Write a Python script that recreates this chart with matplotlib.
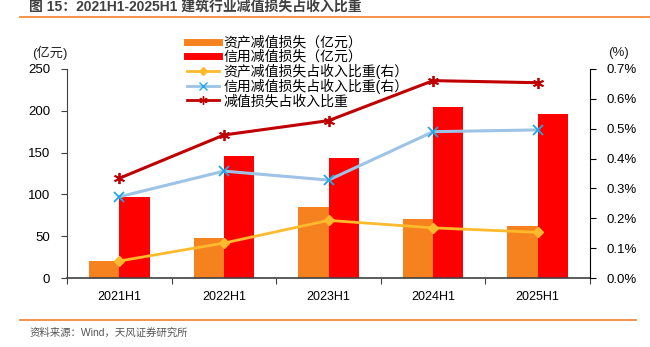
import numpy as np
import matplotlib
matplotlib.use("Agg")
from matplotlib import pyplot as plt
from matplotlib.lines import Line2D

plt.rcParams['font.family'] = ['Liberation Sans', 'Noto Sans CJK SC']
plt.rcParams['axes.unicode_minus'] = False

periods = ["2021H1", "2022H1", "2023H1", "2024H1", "2025H1"]
asset_loss = [20, 48, 85, 71, 62]          # 亿元
credit_loss = [97, 146, 143, 205, 196]     # 亿元
asset_ratio = [0.057, 0.117, 0.193, 0.168, 0.153]   # %
credit_ratio = [0.272, 0.358, 0.328, 0.490, 0.496]  # %
total_ratio = [0.334, 0.479, 0.527, 0.661, 0.654]   # %

c_orange = "#F5821F"
c_red = "#FF0000"
c_yellow = "#FDBA2C"
c_blue = "#9DC3E6"
c_bluemk = "#1FA8E8"
c_dred = "#C00000"
c_line = "#F7883A"

fig = plt.figure(figsize=(6.5, 3.47), dpi=100)
ax = fig.add_axes([0.1031, 0.1988, 0.8046, 0.6024])
ax2 = ax.twinx()

x = np.arange(len(periods))
w = 0.29
ax.bar(x - w / 2, asset_loss, w, color=c_orange, zorder=2)
ax.bar(x + w / 2, credit_loss, w, color=c_red, zorder=2)

ax.set_xlim(-0.5, len(periods) - 0.5)
ax.set_ylim(0, 250)
ax.set_yticks(range(0, 251, 50))
ax.set_xticks(np.arange(-0.5, len(periods), 1.0))
ax.set_xticklabels([])
ax.set_xticks(x, minor=True)
ax.set_xticklabels(periods, minor=True)
ax.tick_params(axis="x", which="minor", length=0, pad=9, labelsize=9)
ax.tick_params(axis="x", which="major", length=4, color="#404040")
ax.tick_params(axis="y", length=4, labelsize=9.5, pad=8, color="#404040")
ax.spines["top"].set_visible(False)
ax.spines["right"].set_visible(False)
ax.spines["left"].set_color("#404040")
ax.spines["bottom"].set_color("#404040")
ax.spines["bottom"].set_linewidth(1.2)

ax2.plot(x, asset_ratio, color=c_yellow, lw=2, marker="D", ms=5,
         markerfacecolor=c_yellow, markeredgecolor=c_yellow, zorder=3)
ax2.plot(x, credit_ratio, color=c_blue, lw=2.2, marker="x", ms=7,
         markeredgecolor=c_bluemk, markeredgewidth=1.3, zorder=3)
ax2.plot(x, total_ratio, color=c_dred, lw=2.2, marker=(6, 2, 0), ms=8,
         markeredgecolor=c_dred, markeredgewidth=1.3, zorder=3)
ax2.set_ylim(0, 0.7)
ax2.set_yticks(np.arange(0, 0.71, 0.1))
ax2.set_yticklabels([f"{v:.1f}%" for v in np.arange(0, 0.71, 0.1)])
ax2.tick_params(axis="y", length=4, labelsize=9.5, pad=8)
for s in ["top", "left", "bottom"]:
    ax2.spines[s].set_visible(False)

fig.text(0.049, 0.848, "(亿元)", fontsize=9.5, ha="left", va="center", color="#222222")
fig.text(0.951, 0.848, "(%)", fontsize=9.5, ha="center", va="center", color="#222222")

handles = [
    Line2D([], [], color=c_orange, lw=5),
    Line2D([], [], color=c_red, lw=5),
    Line2D([], [], color=c_yellow, lw=2, marker="D", ms=4),
    Line2D([], [], color=c_blue, lw=2, marker="x", ms=6, markeredgecolor=c_bluemk),
    Line2D([], [], color=c_dred, lw=2, marker=(6, 2, 0), ms=6),
]
labels = ["资产减值损失（亿元）", "信用减值损失（亿元）", "资产减值损失占收入比重(右）",
          "信用减值损失占收入比重(右）", "减值损失占收入比重"]
fig.legend(handles, labels, loc="upper left", bbox_to_anchor=(0.288, 0.897),
           frameon=False, fontsize=10, handlelength=2.3, handletextpad=0.3,
           labelspacing=0.0, borderpad=0, borderaxespad=0)

# title and source with orange rules
fig.text(0.045, 0.982, "图 15：2021H1-2025H1 建筑行业减值损失占收入比重",
         fontsize=10, fontweight="bold", color="#404040", ha="left", va="center")
fig.add_artist(Line2D([0.031, 1.0], [0.951, 0.951], color=c_line, lw=1.3))
fig.add_artist(Line2D([0.031, 0.978], [0.078, 0.078], color=c_line, lw=1.3))
fig.text(0.045, 0.040, "资料来源：Wind，天风证券研究所", fontsize=7.5,
         color="#555555", ha="left", va="center")

plt.savefig("out.png", dpi=100)
